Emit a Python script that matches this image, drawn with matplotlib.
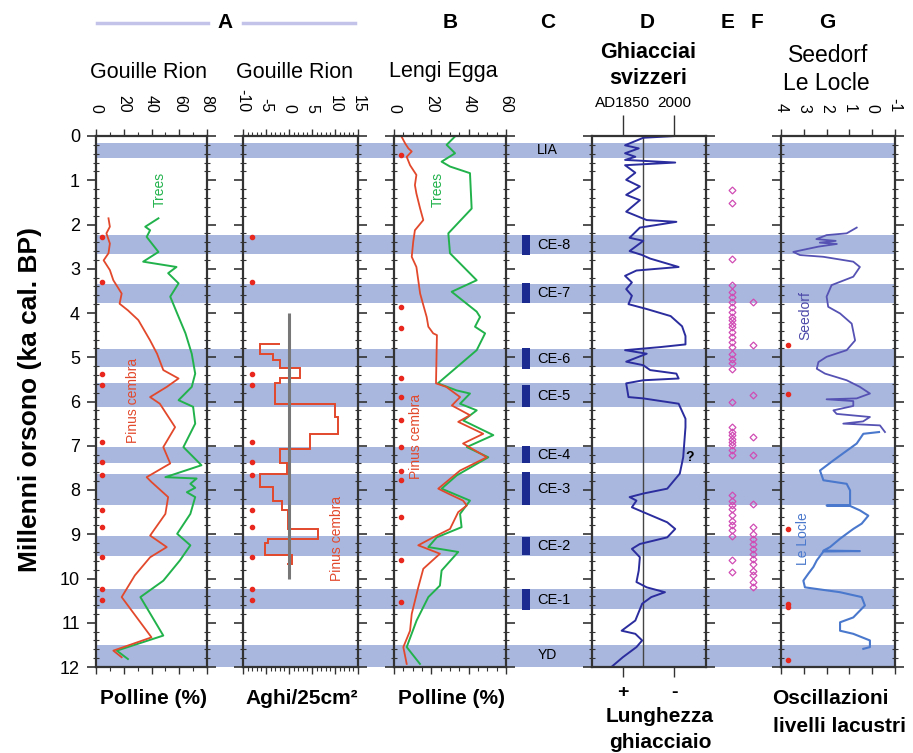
import matplotlib.pyplot as plt
from matplotlib.lines import Line2D
from matplotlib.ticker import MultipleLocator

plt.rcParams['font.family'] = ['Liberation Sans', 'DejaVu Sans']
plt.rcParams['axes.unicode_minus'] = False

# cold phases (ka cal. BP), shaded across all panels
band_top = [0.15, 2.24, 3.35, 4.82, 5.59, 7.03, 7.63, 9.03, 10.23, 11.50]
band_bot = [0.50, 2.67, 3.78, 5.23, 6.13, 7.40, 8.35, 9.50, 10.70, 12.00]

# A - Gouille Rion pollen (%)
gr_pinus_ka = [1.86, 2.05, 2.2, 2.43, 2.65, 2.81, 3.03, 3.26, 3.56, 3.79, 3.94, 4.16, 4.62, 4.92,
               5.29, 5.48, 5.67, 5.9, 6.05, 6.58, 7.03, 7.4, 7.71, 7.82, 8.16, 8.54, 9.03, 9.29,
               9.52, 9.93, 10.42, 11.33, 11.63, 11.78]
gr_pinus = [9, 10, 7.5, 10, 9, 5.5, 10, 12.5, 18.5, 17, 23, 30.5, 39, 44,
            48.5, 59.5, 51, 39, 46, 57, 48.5, 53.5, 36.5, 40, 52, 50, 39, 51,
            39, 28, 18.5, 40, 12.5, 18.5]
gr_trees_ka = [1.86, 2.05, 2.13, 2.28, 2.62, 2.84, 2.96, 3.1, 3.33, 3.63, 4.01, 4.46, 4.92, 5.37,
               5.67, 5.97, 6.12, 6.5, 7.03, 7.44, 7.71, 7.74, 7.86, 7.95, 8.05, 8.16, 8.54, 8.99,
               9.25, 9.59, 10.05, 10.42, 11.29, 11.63, 11.82]
gr_trees = [45, 35.5, 39, 36.5, 45, 34, 58, 52, 59.5, 53.5, 58.5, 64.5, 69, 71.5,
            69, 59.5, 70, 71.5, 63, 76, 50, 72.5, 68, 71.5, 65.5, 71.5, 68, 58.5,
            68, 60.5, 48.5, 32, 48.5, 15, 23]
gr_dates = [2.29, 3.3, 5.38, 5.63, 6.92, 7.37, 7.65, 8.45, 8.84, 9.52, 10.24, 10.48]

# A - Gouille Rion needles (Aghi/25cm2), step record
gr_needle_edges = [4.69, 4.69, 4.92, 5.07, 5.25, 5.48, 5.59, 6.05, 6.35, 6.73, 7.07, 7.4, 7.63,
                   7.93, 8.24, 8.46, 8.88, 9.1, 9.2, 9.48, 9.67, 9.67]
gr_needles = [-2, -6.3, -3.5, -2, 2.4, -2, -3, 10, 10.7, 4.6, -2, -0.5, -6.3,
              -3.5, -1.6, -0.2, 6.4, -4.5, -5.2, 0.6, -0.5]
gr_needle_ref = (4.0, 10.0)

# B - Lengi Egga pollen (%)
le_pinus_ka = [0.01, 0.17, 0.28, 0.35, 0.47, 0.66, 0.88, 1.11, 1.3, 1.64, 1.9, 2.13, 2.39, 2.73,
               2.96, 3.26, 3.56, 3.82, 4.09, 4.31, 4.46, 4.5, 5.59, 5.67, 5.9, 6.09, 6.31, 6.46,
               6.73, 6.95, 7.26, 7.56, 7.97, 8.08, 8.24, 8.35, 8.5, 8.88, 9.07, 9.25, 9.44, 9.78,
               10.2, 10.8, 11.18, 11.55, 11.93]
le_pinus = [4, 6, 7.7, 9.5, 6.8, 8.6, 12, 11.2, 12, 14, 15.7, 11.2, 10.3, 9.5,
            12, 13, 14, 15.7, 17.5, 18.4, 21, 23, 22.5, 28, 35.4, 31, 40.7, 34.4,
            47.8, 37, 49.7, 35.4, 23.7, 29, 37, 39, 34.4, 30, 21, 13, 24.6, 15.7,
            13, 9.5, 8.6, 5, 6.8]
le_trees_ka = [0.01, 0.2, 0.39, 0.58, 0.69, 0.84, 1.64, 2.2, 2.65, 2.88, 3.26, 3.52, 3.97, 4.09,
               4.31, 4.46, 4.84, 5.59, 5.75, 5.82, 6.05, 6.2, 6.43, 6.76, 7.03, 7.26, 7.67, 7.97,
               8.24, 8.54, 8.84, 9.07, 9.29, 9.4, 9.82, 10.16, 10.42, 10.95, 11.55, 11.93]
le_trees = [32.7, 28.2, 32.7, 25.5, 30, 40.7, 41.6, 29.1, 30, 35.4, 44.3, 30.9, 44.3, 46.1,
            43.4, 48.8, 44.3, 23.5, 33.6, 40.7, 35.4, 44.3, 37.1, 53.2, 39, 50.5, 33.6, 25.5,
            40.7, 35.4, 36.2, 22.9, 18.4, 34.4, 25.5, 24.6, 18.4, 12.1, 6.8, 13.9]
le_dates = [0.43, 3.86, 4.35, 5.48, 5.9, 6.42, 7.03, 7.56, 7.78, 8.6, 9.59, 10.52]

# C - cold events
ce_names = ['CE-8', 'CE-7', 'CE-6', 'CE-5', 'CE-4', 'CE-3', 'CE-2', 'CE-1']
ce_top = [2.24, 3.33, 4.80, 5.63, 7.01, 7.59, 9.07, 10.24]
ce_bot = [2.69, 3.77, 5.26, 6.12, 7.39, 8.35, 9.48, 10.72]

# D - Swiss glaciers (relative length, 0 = larger .. 1 = smaller)
gl_ka = [0.0, 0.04, 0.21, 0.28, 0.39, 0.47, 0.54, 0.60, 0.66, 0.83,
         0.99, 1.14, 1.33, 1.45, 1.71, 1.9, 1.94, 2.07, 2.3, 2.37,
         2.6, 2.69, 2.77, 2.96, 3.04, 3.16, 3.31, 3.46, 3.61, 3.8,
         3.91, 4.07, 4.3, 4.52, 4.71, 4.77, 4.84, 4.92, 5.1, 5.18,
         5.29, 5.37, 5.48, 5.52, 5.59, 5.9, 5.93, 6.05, 6.39, 6.58,
         7.26, 7.63, 7.97, 8.08, 8.16, 8.24, 8.39, 8.5, 8.73, 8.88,
         9.07, 9.22, 9.33, 9.52, 9.82, 10.08, 10.2, 10.31, 10.42, 10.57,
         10.95, 11.18, 11.25, 11.4, 11.55, 11.78, 12.0]
gl_len = [0.73, 0.45, 0.29, 0.41, 0.29, 0.38, 0.29, 0.73, 0.29, 0.38,
          0.30, 0.42, 0.30, 0.42, 0.30, 0.48, 0.74, 0.42, 0.33, 0.45,
          0.33, 0.44, 0.51, 0.76, 0.39, 0.29, 0.35, 0.30, 0.35, 0.32,
          0.48, 0.69, 0.79, 0.82, 0.82, 0.60, 0.29, 0.48, 0.30, 0.45,
          0.51, 0.74, 0.76, 0.45, 0.30, 0.32, 0.45, 0.76, 0.82, 0.82,
          0.80, 0.77, 0.66, 0.45, 0.33, 0.39, 0.35, 0.45, 0.66, 0.73,
          0.66, 0.42, 0.35, 0.42, 0.41, 0.39, 0.48, 0.64, 0.52, 0.44,
          0.38, 0.26, 0.38, 0.44, 0.39, 0.27, 0.17]
gl_ticks = [0.27, 0.72]
gl_top_labels = ['AD1850', '2000']
gl_bot_labels = ['+', '-']
gl_ref = 0.45

# E, F
e_ka = [1.22, 1.52, 2.77, 3.37, 3.52, 3.63, 3.75, 3.86, 3.97, 4.09, 4.16, 4.24, 4.31, 4.43,
        4.54, 4.65, 4.77, 4.92, 5.03, 5.14, 5.26, 6.01, 6.58, 6.69, 6.76, 6.84, 6.92, 6.99,
        7.1, 7.22, 8.12, 8.24, 8.35, 8.42, 8.57, 8.69, 8.8, 8.91, 9.03, 9.59, 9.86]
f_ka = [3.75, 4.73, 5.86, 6.8, 7.22, 8.31, 8.84, 8.99, 9.1, 9.22, 9.33, 9.44, 9.55, 9.67,
        9.82, 9.93, 10.08, 10.2]

# G - lake levels
seedorf_ka = [2.07, 2.2, 2.24, 2.33, 2.37, 2.41, 2.44, 2.5, 2.62, 2.69,
              2.73, 2.84, 2.96, 3.18, 3.37, 3.63, 3.86, 4.01, 4.24, 4.62,
              4.84, 4.99, 5.11, 5.26, 5.37, 5.52, 5.67, 5.82, 5.93, 5.95,
              5.99, 6.1, 6.2, 6.28, 6.35, 6.45, 6.5, 6.54, 6.69]
seedorf = [0.68, 1.12, 2.0, 2.45, 1.6, 2.3, 1.55, 2.36, 3.46, 3.17,
           2.14, 0.83, 0.54, 0.83, 1.78, 2.0, 1.93, 1.41, 0.9, 0.75,
           1.12, 2.0, 2.36, 2.43, 2.07, 1.12, 0.54, 0.1, 0.68, 2.0,
           0.83, 0.83, 1.7, 1.56, 0.1, 0.4, 1.27, -0.34, -0.56]
lelocle_ka = [6.69, 6.73, 6.95, 7.33, 7.56, 7.78, 7.86, 8.01, 8.24, 8.34,
              8.35, 8.36, 8.46, 8.58, 8.76, 8.88, 9.1, 9.29, 9.37, 9.38,
              9.39, 9.59, 9.74, 9.89, 10.05, 10.2, 10.31, 10.42, 10.61, 10.88,
              10.99, 11.18, 11.25, 11.4, 11.55, 11.59]
lelocle = [-0.3, 0.39, 0.68, 1.7, 2.29, 2.14, 1.12, 0.97, 0.97, 0.97,
           2.0, 0.97, 0.54, 0.17, 0.46, 0.83, 1.41, 1.85, 2.14, 0.54,
           2.14, 2.43, 2.58, 2.8, 3.02, 2.95, 1.41, 0.46, 0.32, 0.83,
           1.41, 1.41, 0.83, 0.1, 0.1, 0.39]
g_dates = [4.73, 5.82, 8.88, 10.58, 10.64, 11.84]

# ---------------------------------------------------------------
W, H = 913, 753
TOP, BOT = 136, 667
RED = '#e2492c'
GREEN = '#22b24c'
BAND = '#a9b7de'
SPINE = '#333333'
DOT = '#e8281e'

fig = plt.figure(figsize=(W / 100, H / 100), dpi=100)


def rect(x0, x1):
    return [x0 / W, 1 - BOT / H, (x1 - x0) / W, (BOT - TOP) / H]


def ftext(x, y, s, **kw):
    fig.text(x / W, 1 - y / H, s, ha='center', va='center', **kw)


# background bands
bg = fig.add_axes(rect(96, 895))
bg.set_ylim(12, 0)
bg.axis('off')
for t, b in zip(band_top, band_bot):
    bg.axhspan(t, b, color=BAND, lw=0)


def panel(x0, x1, ylabels=False):
    ax = fig.add_axes(rect(x0, x1))
    ax.set_facecolor('none')
    ax.set_ylim(12, 0)
    ax.set_yticks(range(13))
    ax.yaxis.set_minor_locator(MultipleLocator(0.2))
    ax.tick_params(axis='y', which='major', left=True, right=True, direction='out',
                   length=6.5, width=1.2, color=SPINE, labelleft=ylabels, labelsize=13, pad=5)
    ax.tick_params(axis='y', which='minor', left=True, right=True, direction='inout',
                   length=4.5, width=0.8, color=SPINE)
    for s in ax.spines.values():
        s.set_linewidth(1.6)
        s.set_color(SPINE)
    return ax


def top_axis(ax, lo, hi, ticks, minor=None):
    ax.set_xlim(lo, hi)
    ax.set_xticks(ticks)
    if minor:
        ax.xaxis.set_minor_locator(MultipleLocator(minor))
    ax.tick_params(axis='x', which='both', top=True, bottom=True, labeltop=True,
                   labelbottom=False, direction='out', color=SPINE)
    ax.tick_params(axis='x', which='major', length=5, width=1, labelsize=11.5,
                   labelrotation=-90, pad=12)
    ax.tick_params(axis='x', which='minor', length=3, width=0.8)


# A1 Gouille Rion pollen
a1 = panel(96, 207, ylabels=True)
top_axis(a1, 0, 80, [0, 20, 40, 60, 80], 10)
a1.plot(gr_trees, gr_trees_ka, color=GREEN, lw=1.4)
a1.plot(gr_pinus, gr_pinus_ka, color=RED, lw=1.3)
a1.plot([4] * len(gr_dates), gr_dates, 'o', color=DOT, ms=3)
a1.text(46, 1.2, 'Trees', color=GREEN, rotation=90, ha='center', va='center', fontsize=10)
a1.text(27, 5.97, 'Pinus cembra', color=RED, rotation=90, ha='center', va='center', fontsize=10)

# A2 Gouille Rion needles
a2 = panel(243, 358)
top_axis(a2, -10, 15, [-10, -5, 0, 5, 10, 15], 1)
a2.vlines(0, *gr_needle_ref, color='#777777', lw=2.2)
a2.stairs(gr_needles, gr_needle_edges, orientation='horizontal', baseline=None,
          color=RED, lw=1.4)
a2.plot([-8.1] * len(gr_dates), gr_dates, 'o', color=DOT, ms=3)
a2.text(10.4, 9.1, 'Pinus cembra', color=RED, rotation=90, ha='center', va='center', fontsize=10)

# B Lengi Egga
b = panel(394, 506)
top_axis(b, 0, 60, [0, 20, 40, 60], 5)
b.plot(le_trees, le_trees_ka, color=GREEN, lw=1.4)
b.plot(le_pinus, le_pinus_ka, color=RED, lw=1.3)
b.plot([3.6] * len(le_dates), le_dates, 'o', color=DOT, ms=3)
b.text(23.7, 1.2, 'Trees', color=GREEN, rotation=90, ha='center', va='center', fontsize=10)
b.text(11.8, 6.8, 'Pinus cembra', color=RED, rotation=90, ha='center', va='center', fontsize=10)

# C cold events
c = fig.add_axes(rect(515, 575))
c.set_xlim(0, 1)
c.set_ylim(12, 0)
c.axis('off')
c.bar(0.18, [bt - tp for tp, bt in zip(ce_top, ce_bot)], bottom=ce_top, width=0.14,
      color='#1c2b8f')
for name, tp, bt in zip(ce_names, ce_top, ce_bot):
    c.text(0.37, (tp + bt) / 2, name, ha='left', va='center', fontsize=10.5)
c.text(0.37, (band_top[0] + band_bot[0]) / 2, 'LIA', ha='left', va='center', fontsize=10)
c.text(0.37, 11.72, 'YD', ha='left', va='center', fontsize=10)

# D Swiss glaciers
d = panel(592, 706)
d.set_xlim(0, 1)
d.set_xticks(gl_ticks, gl_bot_labels)
d.tick_params(axis='x', top=False, bottom=True, direction='out', length=7, width=1,
              labelsize=14, pad=5, color=SPINE)
for lab in d.get_xticklabels():
    lab.set_fontweight('bold')
sec = d.secondary_xaxis('top')
sec.set_xticks(gl_ticks, gl_top_labels)
sec.tick_params(length=15, width=1, labelsize=11, pad=4, color=SPINE)
sec.spines['top'].set_visible(False)
d.axvline(gl_ref, color='#444444', lw=1)
d.plot(gl_len, gl_ka, color='#2b2d9e', lw=1.4)
d.text(0.86, 7.26, '?', ha='center', va='center', fontsize=10, fontweight='bold')

# E F
ef = fig.add_axes(rect(715, 770))
ef.set_xlim(0, 1)
ef.set_ylim(12, 0)
ef.axis('off')
ef.plot([0.31] * len(e_ka), e_ka, 'D', ms=3.5, mfc='none', mec='#d04cb4', mew=0.9)
ef.plot([0.69] * len(f_ka), f_ka, 'D', ms=3.5, mfc='none', mec='#d04cb4', mew=0.9)

# G lake levels
g = panel(781, 895)
top_axis(g, 4, -1, [4, 3, 2, 1, 0, -1])
g.plot(seedorf, seedorf_ka, color='#5552b4', lw=1.3)
g.plot(lelocle, lelocle_ka, color='#4a78cc', lw=1.5)
g.plot([3.7] * len(g_dates), g_dates, 'o', color=DOT, ms=3)
g.text(2.95, 4.05, 'Seedorf', color='#4b47a8', rotation=90, ha='center', va='center', fontsize=10)
g.text(3.04, 9.1, 'Le Locle', color='#4a78cc', rotation=90, ha='center', va='center', fontsize=10)

# headers
fig.add_artist(Line2D([97 / W, 208 / W], [1 - 23 / H] * 2, color='#c3c3ea', lw=2.5))
fig.add_artist(Line2D([243 / W, 355 / W], [1 - 23 / H] * 2, color='#c3c3ea', lw=2.5))
for lab, x in zip('ABCDEFG', [225, 450, 548, 647, 728, 757, 827]):
    ftext(x, 23, lab, fontsize=15, fontweight='bold')
ftext(148, 72, 'Gouille Rion', fontsize=15.5)
ftext(294, 72, 'Gouille Rion', fontsize=15.5)
ftext(443, 72, 'Lengi Egga', fontsize=15.5)
ftext(648, 52, 'Ghiacciai', fontsize=15.5, fontweight='bold')
ftext(648, 79, 'svizzeri', fontsize=15.5, fontweight='bold')
ftext(828, 55, 'Seedorf', fontsize=16.5)
ftext(826, 84, 'Le Locle', fontsize=16.5)

# axis titles
ftext(30, 400, 'Millenni orsono (ka cal. BP)', fontsize=19, fontweight='bold', rotation=90)
ftext(153, 698, 'Polline (%)', fontsize=15, fontweight='bold')
ftext(302, 698, 'Aghi/25cm²', fontsize=15, fontweight='bold')
ftext(451, 698, 'Polline (%)', fontsize=15, fontweight='bold')
ftext(660, 717, 'Lunghezza', fontsize=15, fontweight='bold')
ftext(660, 742, 'ghiacciaio', fontsize=15, fontweight='bold')
ftext(830, 699, 'Oscillazioni', fontsize=15, fontweight='bold')
ftext(839, 727, 'livelli lacustri', fontsize=15, fontweight='bold')

fig.savefig('out.png', dpi=100)
